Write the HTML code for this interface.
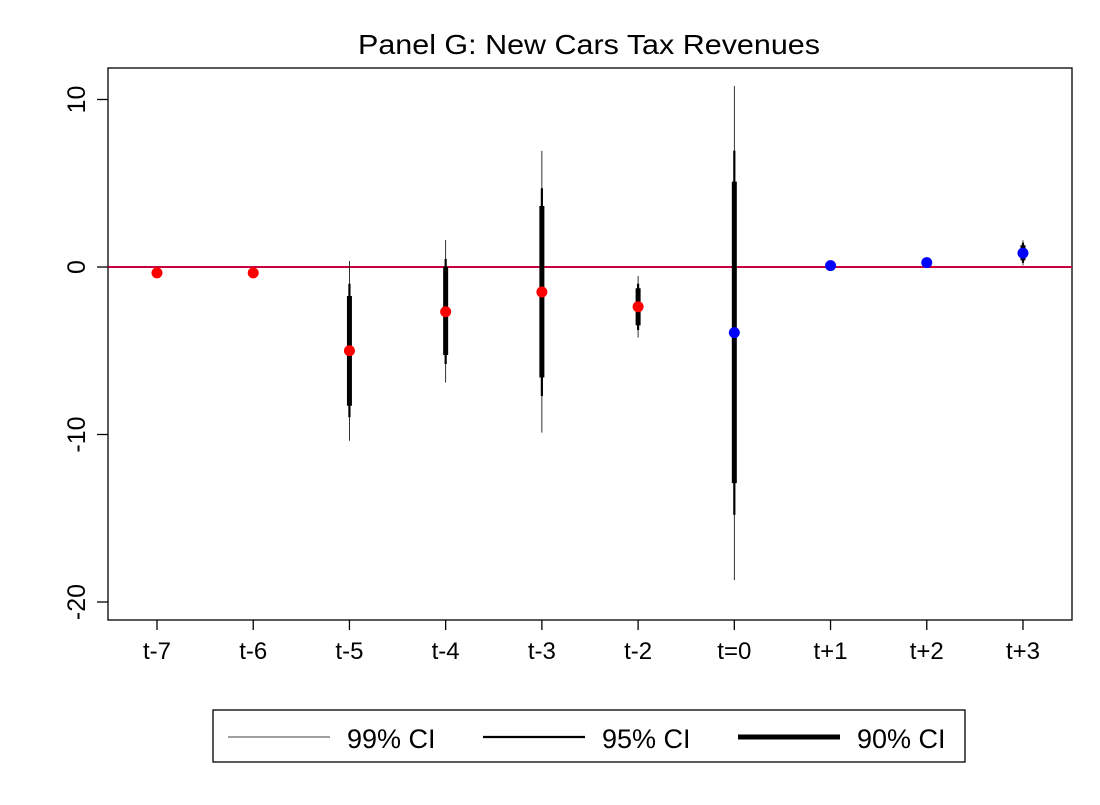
<!DOCTYPE html>
<html><head><meta charset="utf-8"><style>
body{margin:0;background:#fff;font-family:"Liberation Sans",Arial,sans-serif}
</style></head><body>
<svg id="chart" width="1100" height="800" viewBox="0 0 1100 800" xmlns="http://www.w3.org/2000/svg" font-family="Liberation Sans, Arial, sans-serif">
<rect x="0" y="0" width="1100" height="800" fill="#fff"/>
<text x="358" y="54" font-size="28" textLength="462" lengthAdjust="spacingAndGlyphs">Panel G: New Cars Tax Revenues</text>
<rect x="108" y="68" width="964" height="552" fill="none" stroke="#000" stroke-width="1.3"/>
<g id="marks"></g>
<g>
<rect x="213" y="710" width="752" height="52" fill="#fff" stroke="#000" stroke-width="1.3"/>
<line x1="228" y1="737" x2="330" y2="737" stroke="#000" stroke-width="0.8"/>
<text x="347" y="748" font-size="27">99% CI</text>
<line x1="483" y1="737" x2="585" y2="737" stroke="#000" stroke-width="2.2"/>
<text x="602" y="748" font-size="27">95% CI</text>
<line x1="738" y1="737" x2="840" y2="737" stroke="#000" stroke-width="5"/>
<text x="857" y="748" font-size="27">90% CI</text>
</g>
</svg>
<script>
const categories = ["t-7","t-6","t-5","t-4","t-3","t-2","t=0","t+1","t+2","t+3"];
const estimates = [-0.35,-0.35,-5.0,-2.67,-1.49,-2.37,-3.92,0.08,0.26,0.83];
const lo99 = [-0.5,-0.6,-10.37,-6.9,-9.89,-4.22,-18.7,0.05,0.2,0.1];
const hi99 = [-0.2,-0.1,0.36,1.61,6.93,-0.54,10.8,0.12,0.32,1.6];
const lo95 = [-0.45,-0.5,-8.97,-5.79,-7.7,-3.76,-14.8,0.06,0.22,0.25];
const hi95 = [-0.25,-0.2,-1.0,0.48,4.7,-1.0,6.95,0.1,0.3,1.45];
const lo90 = [-0.4,-0.45,-8.28,-5.25,-6.6,-3.48,-12.9,0.07,0.23,0.4];
const hi90 = [-0.3,-0.25,-1.73,0.0,3.64,-1.27,5.1,0.09,0.29,1.3];
const pointColors = ["red","red","red","red","red","red","blue","blue","blue","blue"];
const yTicks = [10,0,-10,-20];
const yTickLabels = ["10","0","-10","-20"];

const NS="http://www.w3.org/2000/svg";
const y = v => 267 - 16.75*v;
const x = i => 157 + i*96.22;
const svg = document.getElementById('chart');
const g = document.getElementById('marks');
function mk(tag, attrs, parent){const e=document.createElementNS(NS,tag);for(const k in attrs)e.setAttribute(k,attrs[k]);(parent||g).appendChild(e);return e;}

yTicks.forEach((t,i)=>{
  const tk=mk('line',{x1:97,x2:108,y1:y(t),y2:y(t),stroke:'#000','stroke-width':1.3});
  
  
  const tx=mk('text',{x:0,y:0,'font-size':25,'text-anchor':'middle',transform:`translate(85,${y(t)}) rotate(-90)`});
  tx.textContent=yTickLabels[i];
  
  
});
categories.forEach((c,i)=>{
  const tk=mk('line',{x1:x(i),x2:x(i),y1:620,y2:630,stroke:'#000','stroke-width':1.3});
  
  
  const tx=mk('text',{x:x(i),y:659,'font-size':24,'text-anchor':'middle'});
  tx.textContent=c;
  
  
});
const zl=mk('line',{x1:108,x2:1072,y1:y(0),y2:y(0),stroke:'#c8003c','stroke-width':2});


categories.forEach((c,i)=>{
  const a=mk('line',{x1:x(i),x2:x(i),y1:y(lo99[i]),y2:y(hi99[i]),stroke:'#000','stroke-width':0.8});
  
  
  const b=mk('line',{x1:x(i),x2:x(i),y1:y(lo95[i]),y2:y(hi95[i]),stroke:'#000','stroke-width':2.2});
  
  
  const d=mk('line',{x1:x(i),x2:x(i),y1:y(lo90[i]),y2:y(hi90[i]),stroke:'#000','stroke-width':5});
  
  
  const p=mk('circle',{cx:x(i),cy:y(estimates[i]),r:5.5,fill:pointColors[i]});
  
  
});
</script>
</body></html>
